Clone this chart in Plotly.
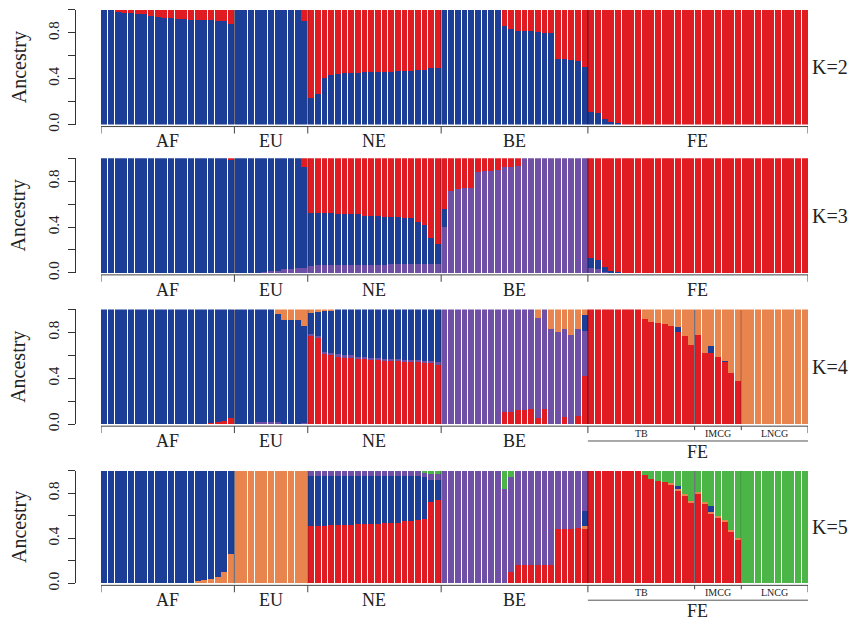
import plotly.graph_objects as go

W, H = 853, 624

# ---- sample layout -------------------------------------------------------
group_names = ["AF", "EU", "NE", "BE", "FE"]
group_sizes = [20, 11, 20, 22, 33]
fe_sub_names = ["TB", "IMCG", "LNCG"]
fe_sub_sizes = [16, 7, 10]
k_labels = ["K=2", "K=3", "K=4", "K=5"]
y_tick_vals = [0.0, 0.2, 0.4, 0.6, 0.8, 1.0]
y_tick_text = ["0.0", "", "0.4", "", "0.8", ""]

BLUE = "#1d3e96"
RED = "#e11b22"
PURPLE = "#7050a6"
ORANGE = "#e8844d"
GREEN = "#4cb548"

# ---- K=2 : blue, red (red fills each bar to 1) ---------------------------
k2_blue = (
    [1.00, 1.00, 0.99, 0.97, 0.97, 0.96, 0.96, 0.95, 0.94, 0.93,
     0.93, 0.92, 0.92, 0.91, 0.91, 0.91, 0.91, 0.90, 0.90, 0.88]          # AF
    + [1.00] * 10 + [0.90]                                                # EU
    + [0.23, 0.27, 0.41, 0.43, 0.44, 0.45, 0.45, 0.45, 0.46, 0.46,
       0.46, 0.46, 0.46, 0.47, 0.47, 0.47, 0.48, 0.48, 0.49, 0.49]        # NE
    + [1.00] * 9 + [0.86, 0.83, 0.82, 0.82, 0.82, 0.81, 0.80, 0.80,
                    0.57, 0.57, 0.56, 0.55, 0.50]                         # BE
    + [0.11, 0.10, 0.05, 0.02, 0.01] + [0.00] * 28                        # FE
)

# ---- K=3 : purple, blue, red (red fills to 1) ----------------------------
k3_purple = (
    [0.00] * 20
    + [0.00, 0.00, 0.00, 0.00, 0.01, 0.02, 0.02, 0.03, 0.03, 0.04, 0.04]
    + [0.06] + [0.07] * 11 + [0.08] * 8
    + [0.40, 0.71, 0.73, 0.74, 0.74, 0.88, 0.89, 0.89, 0.90, 0.92, 0.92, 0.93]
    + [1.00] * 10
    + [0.04, 0.03, 0.01] + [0.00] * 30
)
k3_blue = (
    [1.00] * 19 + [0.98]
    + [1.00, 1.00, 1.00, 1.00, 0.99, 0.98, 0.98, 0.97, 0.97, 0.96, 0.88]
    + [0.46, 0.45, 0.45, 0.45, 0.44, 0.44, 0.44, 0.44, 0.43, 0.43,
       0.43, 0.42, 0.41, 0.41, 0.40, 0.40, 0.36, 0.34, 0.22, 0.17]
    + [0.16] + [0.00] * 21
    + [0.09, 0.08, 0.04, 0.02, 0.01] + [0.00] * 28
)

# ---- K=4 : red, purple, blue, orange (orange fills to 1) -----------------
k4_red = (
    [0.00] * 16 + [0.01, 0.02, 0.03, 0.05]
    + [0.00] * 11
    + [0.77, 0.75, 0.61, 0.60, 0.59, 0.58, 0.58, 0.57, 0.57, 0.56,
       0.56, 0.55, 0.55, 0.55, 0.54, 0.54, 0.54, 0.53, 0.53, 0.52]
    + [0.00] * 9 + [0.11, 0.11, 0.12, 0.12, 0.13, 0.05, 0.13,
                    0.00, 0.00, 0.06, 0.00, 0.07, 0.42]
    + [1.00] * 8 + [0.92, 0.89, 0.88, 0.87, 0.86, 0.80, 0.77, 0.69]
    + [0.78, 0.62, 0.62, 0.59, 0.54, 0.45, 0.38]
    + [0.00] * 10
)
k4_purple = (
    [0.00] * 20
    + [0.00, 0.00, 0.00, 0.02, 0.02, 0.02, 0.02, 0.00, 0.00, 0.00, 0.01]
    + [0.02] * 20
    + [1.00] * 9 + [0.89, 0.89, 0.88, 0.88, 0.87, 0.88, 0.87,
                    0.83, 0.80, 0.77, 0.78, 0.76, 0.39]
    + [0.00] * 33
)
k4_blue = (
    [1.00] * 16 + [0.99, 0.98, 0.97, 0.95]
    + [1.00, 1.00, 1.00, 0.98, 0.98, 0.98, 0.94, 0.91, 0.91, 0.91, 0.85]
    + [0.18, 0.21, 0.36, 0.37, 0.39, 0.40, 0.40, 0.41, 0.41, 0.42,
       0.42, 0.43, 0.43, 0.43, 0.44, 0.44, 0.44, 0.45, 0.45, 0.46]
    + [0.00] * 21 + [0.14]
    + [0.00] * 13 + [0.05, 0.00, 0.00]
    + [0.00, 0.00, 0.06, 0.00, 0.015, 0.00, 0.00]
    + [0.00] * 10
)

# ---- K=5 : red, orange, blue, purple, green (green fills to 1) -----------
k5_red = (
    [0.00] * 20
    + [0.00] * 11
    + [0.51, 0.51, 0.51, 0.52, 0.52, 0.52, 0.52, 0.53, 0.53, 0.53,
       0.53, 0.54, 0.54, 0.54, 0.55, 0.55, 0.56, 0.57, 0.72, 0.74]
    + [0.00] * 10 + [0.10, 0.16, 0.16, 0.16, 0.16, 0.16, 0.16,
                     0.48, 0.48, 0.48, 0.49, 0.48]
    + [1.00] * 8 + [0.96, 0.93, 0.91, 0.90, 0.88, 0.83, 0.78, 0.72]
    + [0.80, 0.71, 0.62, 0.59, 0.55, 0.46, 0.39]
    + [0.00] * 10
)
k5_orange = (
    [0.00] * 14 + [0.02, 0.03, 0.04, 0.06, 0.10, 0.26]
    + [1.00] * 11
    + [0.00] * 20
    + [0.00] * 21 + [0.03]
    + [0.00] * 12 + [0.01] * 4
    + [0.01] * 7
    + [0.00] * 10
)
k5_blue = (
    [1.00] * 14 + [0.98, 0.97, 0.96, 0.94, 0.90, 0.74]
    + [0.00] * 11
    + [0.44, 0.44, 0.44, 0.43, 0.43, 0.43, 0.43, 0.42, 0.42, 0.42,
       0.42, 0.41, 0.41, 0.41, 0.40, 0.40, 0.39, 0.37, 0.20, 0.18]
    + [0.00] * 21 + [0.13]
    + [0.00] * 13 + [0.02, 0.00, 0.00]
    + [0.00, 0.00, 0.06, 0.00, 0.00, 0.00, 0.00]
    + [0.00] * 10
)
k5_purple = (
    [0.00] * 20
    + [0.00] * 11
    + [0.05] * 20
    + [1.00] * 9 + [0.84, 0.84] + [0.84] * 6 + [0.52] * 3 + [0.51, 0.36]
    + [0.00] * 33
)


def remainder(*parts):
    """Share left over in each bar after the listed components."""
    return [round(max(0.0, 1.0 - sum(v)), 4) for v in zip(*parts)]


panels = [
    [(k2_blue, BLUE), (remainder(k2_blue), RED)],
    [(k3_purple, PURPLE), (k3_blue, BLUE), (remainder(k3_purple, k3_blue), RED)],
    [(k4_red, RED), (k4_purple, PURPLE), (k4_blue, BLUE),
     (remainder(k4_red, k4_purple, k4_blue), ORANGE)],
    [(k5_red, RED), (k5_orange, ORANGE), (k5_blue, BLUE), (k5_purple, PURPLE),
     (remainder(k5_red, k5_orange, k5_blue, k5_purple), GREEN)],
]

# pixel extents of each panel's plotting band
panel_top = [10, 160, 313, 476]
panel_bottom = [126, 276, 429, 590]
bars_left, bars_right = 101, 808
axis_x = 75

FONT = "Liberation Serif, Times New Roman, serif"
INK = "#222222"


def py(px):
    return 1 - px / H


def label(x, y, text, size, xref="paper", angle=0):
    return dict(x=x, y=y, xref=xref, yref="paper", text=text, showarrow=False,
                xanchor="center", yanchor="middle", textangle=angle,
                font=dict(family=FONT, size=size, color=INK))


n = sum(group_sizes)
xs = list(range(n))
edges = [-0.5]
for s in group_sizes:
    edges.append(edges[-1] + s)
fe_edges = [edges[-2]]
for s in fe_sub_sizes:
    fe_edges.append(fe_edges[-1] + s)

fig = go.Figure()
layout_axes = {}
shapes = []
annotations = []

for i, comps in enumerate(panels):
    sfx = "" if i == 0 else str(i + 1)
    xa, ya = "x" + sfx, "y" + sfx
    for vals, col in comps:
        fig.add_trace(go.Bar(
            x=xs, y=vals, marker=dict(color=col, line=dict(width=0)),
            xaxis=xa, yaxis=ya, showlegend=False, hoverinfo="skip",
        ))

    top, bot = panel_top[i], panel_bottom[i]
    layout_axes["xaxis" + sfx] = dict(
        domain=[bars_left / W, bars_right / W], range=[-0.5, n - 0.5],
        visible=False, anchor=ya, fixedrange=True,
    )
    layout_axes["yaxis" + sfx] = dict(
        domain=[py(bot), py(top)], range=[0, 1], anchor="free",
        position=axis_x / W, showline=True, linecolor="#333", linewidth=1,
        ticks="outside", ticklen=7, tickcolor="#333", tickwidth=1,
        tickvals=y_tick_vals, ticktext=y_tick_text, tickangle=-90,
        tickfont=dict(family=FONT, size=15, color=INK),
        showgrid=False, zeroline=False, fixedrange=True,
        ticklabelstandoff=3,
    )

    detailed = i >= 2
    cuts = edges[1:-1] + (fe_edges[1:-1] if detailed else [])
    # dark separators between populations
    for c in cuts:
        shapes.append(dict(type="line", xref=xa, yref=ya, x0=c, x1=c, y0=0, y1=1,
                           line=dict(color="rgba(15,15,35,0.65)", width=1),
                           layer="above"))

    # population bracket under the bars
    yl = py(bot + 2)
    shapes.append(dict(type="line", xref=xa, yref="paper", x0=edges[0], x1=edges[-1],
                       y0=yl, y1=yl, line=dict(color="#444", width=1)))
    for c in edges:
        shapes.append(dict(type="line", xref=xa, yref="paper", x0=c, x1=c,
                           y0=yl, y1=py(bot + 9), line=dict(color="#444", width=1)))
    for g, name in enumerate(group_names):
        if name == "FE" and detailed:
            continue
        mid = (edges[g] + edges[g + 1]) / 2
        annotations.append(label(mid, py(bot + 17), name, 18, xref=xa))

    if detailed:
        for c in fe_edges[1:-1]:
            shapes.append(dict(type="line", xref=xa, yref="paper", x0=c, x1=c,
                               y0=yl, y1=py(bot + 6), line=dict(color="#444", width=1)))
        for s, name in enumerate(fe_sub_names):
            mid = (fe_edges[s] + fe_edges[s + 1]) / 2
            annotations.append(label(mid, py(bot + 9), name, 10, xref=xa))
        yf = py(bot + 17)
        shapes.append(dict(type="line", xref=xa, yref="paper", x0=fe_edges[0],
                           x1=fe_edges[-1], y0=yf, y1=yf,
                           line=dict(color="#555", width=1)))
        annotations.append(label((fe_edges[0] + fe_edges[-1]) / 2, py(bot + 28),
                                 "FE", 18, xref=xa))

    mid_px = (top + bot) / 2
    annotations.append(label(830 / W, py(mid_px), k_labels[i], 20))
    annotations.append(label(19 / W, py(mid_px), "Ancestry", 20, angle=-90))

fig.update_layout(
    width=W, height=H, margin=dict(l=0, r=0, t=0, b=0),
    paper_bgcolor="white", plot_bgcolor="white",
    barmode="stack", bargap=0.12,
    shapes=shapes, annotations=annotations,
    **layout_axes,
)

fig.write_html("out.html")
